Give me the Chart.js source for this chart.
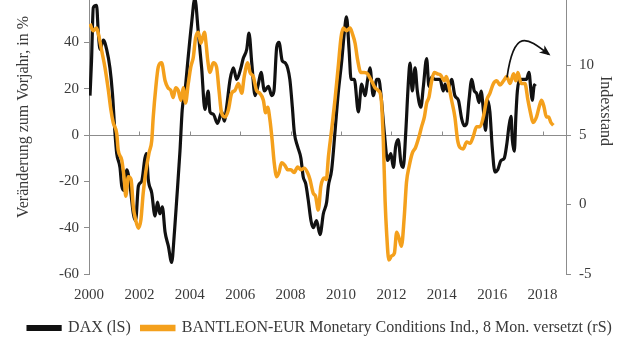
<!DOCTYPE html>
<html>
<head>
<meta charset="utf-8">
<script src="https://cdn.jsdelivr.net/npm/chart.js@4/dist/chart.umd.min.js"></script>
<style>
  html, body { margin: 0; padding: 0; background: #fff; overflow: hidden; }
  #wrap { position: absolute; left: 0; top: -21px; width: 640px; height: 381px; }
</style>
</head>
<body>
<div id="wrap"><canvas id="chart"></canvas></div>
<script>
// DAX, change vs. previous year in % (left scale)
const daxDates = [
  2000.04, 2000.10, 2000.17, 2000.30, 2000.37, 2000.44, 2000.57, 2000.70, 2000.83, 2000.93,
  2001.03, 2001.10, 2001.23, 2001.30, 2001.40, 2001.50, 2001.63, 2001.76, 2001.85, 2001.96,
  2002.09, 2002.22, 2002.28, 2002.35, 2002.49, 2002.62, 2002.72, 2002.81, 2002.91, 2003.02,
  2003.15, 2003.28, 2003.39, 2003.48, 2003.61, 2003.70, 2003.81, 2003.94, 2004.07, 2004.20,
  2004.34, 2004.47, 2004.60, 2004.73, 2004.80, 2004.93, 2005.10, 2005.27, 2005.37, 2005.46,
  2005.60, 2005.73, 2005.86, 2006.03, 2006.12, 2006.26, 2006.35, 2006.46, 2006.59, 2006.72,
  2006.83, 2006.96, 2007.12, 2007.25, 2007.34, 2007.45, 2007.54, 2007.67, 2007.80, 2007.97,
  2008.07, 2008.15, 2008.28, 2008.41, 2008.50, 2008.60, 2008.70, 2008.81, 2008.90, 2009.03,
  2009.17, 2009.30, 2009.43, 2009.50, 2009.63, 2009.76, 2009.89, 2010.03, 2010.13, 2010.22,
  2010.32, 2010.40, 2010.53, 2010.69, 2010.82, 2010.95, 2011.06, 2011.15, 2011.28, 2011.42,
  2011.50, 2011.59, 2011.72, 2011.85, 2011.98, 2012.08, 2012.17, 2012.27, 2012.38, 2012.47,
  2012.57, 2012.67, 2012.74, 2012.83, 2012.94, 2013.03, 2013.17, 2013.27, 2013.40, 2013.49,
  2013.60, 2013.73, 2013.93, 2014.06, 2014.13, 2014.23, 2014.39, 2014.52, 2014.66, 2014.79,
  2014.89, 2014.99, 2015.08, 2015.19, 2015.29, 2015.38, 2015.48, 2015.56, 2015.65, 2015.74,
  2015.82, 2015.91, 2016.00, 2016.11, 2016.22, 2016.35, 2016.48, 2016.58, 2016.67, 2016.75,
  2016.80, 2016.88, 2016.94, 2017.00, 2017.10, 2017.23, 2017.36, 2017.46, 2017.54, 2017.59,
  2017.66, 2017.72
];
const daxValues = [
  17, 32, 55, 56, 44, 37, 41, 37, 29, 18,
  1, -8, -14, -22, -24, -15, -22, -34, -37, -22,
  -20, -10, -8, -19, -25, -35, -29, -34, -31, -42,
  -48, -55, -42, -28, -7, 11, 19, 34, 48, 59,
  44, 29, 11, 19, 10, 9, 5, 10, 6, 12,
  24, 29, 24, 29, 33, 37, 44, 31, 17, 22,
  27, 19, 21, 17, 19, 38, 40, 32, 31, 24,
  12, 1, -5, -10, -18, -21, -28, -37, -40, -37,
  -43, -34, -29, -22, -15, 1, 18, 32, 44, 51,
  37, 24, 24, 10, 22, 17, 24, 29, 17, 24,
  24, 17, 1, -11, -8, -14, -5, -2, -12, -14,
  1, 22, 31, 19, 29, 19, 12, 21, 33, 21,
  25, 24, 24, 19, 22, 19, 24, 17, 15, 7,
  4, 5, 15, 24, 19, 18, 14, 19, 11, 2,
  15, 10, -5, -16, -15, -11, -10, -4, 4, 8,
  -2, -7, 8, 19, 24, 24, 24, 27, 19, 15,
  21, 22
];

// BANTLEON-EUR Monetary Conditions Index, shifted 8 months (right scale)
const mciDates = [
  2000.04, 2000.17, 2000.30, 2000.37, 2000.50, 2000.63, 2000.77, 2000.87, 2000.96, 2001.10,
  2001.16, 2001.30, 2001.40, 2001.46, 2001.56, 2001.67, 2001.76, 2001.85, 2001.96, 2002.06,
  2002.15, 2002.25, 2002.38, 2002.49, 2002.55, 2002.65, 2002.75, 2002.88, 2003.02, 2003.13,
  2003.25, 2003.34, 2003.44, 2003.54, 2003.65, 2003.74, 2003.83, 2003.94, 2004.04, 2004.14,
  2004.23, 2004.34, 2004.44, 2004.58, 2004.65, 2004.71, 2004.80, 2004.93, 2005.06, 2005.16,
  2005.26, 2005.40, 2005.53, 2005.66, 2005.79, 2005.93, 2006.06, 2006.16, 2006.30, 2006.39,
  2006.52, 2006.65, 2006.78, 2006.92, 2007.01, 2007.09, 2007.18, 2007.27, 2007.35, 2007.45,
  2007.54, 2007.64, 2007.78, 2007.88, 2008.01, 2008.14, 2008.28, 2008.41, 2008.54, 2008.67,
  2008.77, 2008.90, 2008.99, 2009.10, 2009.20, 2009.34, 2009.42, 2009.50, 2009.63, 2009.76,
  2009.89, 2010.00, 2010.09, 2010.22, 2010.36, 2010.45, 2010.56, 2010.66, 2010.79, 2010.92,
  2011.06, 2011.15, 2011.24, 2011.35, 2011.48, 2011.59, 2011.68, 2011.75, 2011.81, 2011.90,
  2012.01, 2012.12, 2012.21, 2012.30, 2012.40, 2012.51, 2012.60, 2012.70, 2012.83, 2012.96,
  2013.10, 2013.20, 2013.31, 2013.40, 2013.49, 2013.60, 2013.70, 2013.83, 2013.96, 2014.10,
  2014.18, 2014.26, 2014.39, 2014.52, 2014.63, 2014.72, 2014.85, 2014.99, 2015.12, 2015.25,
  2015.38, 2015.52, 2015.65, 2015.78, 2015.91, 2016.05, 2016.18, 2016.31, 2016.45, 2016.58,
  2016.71, 2016.85, 2016.94, 2017.02, 2017.15, 2017.30, 2017.42, 2017.52, 2017.62, 2017.76,
  2017.86, 2017.96, 2018.06, 2018.15, 2018.24, 2018.33, 2018.43
];
const mciValues = [
  13.0, 12.5, 12.7, 12.3, 11.1, 9.9, 8.2, 6.8, 5.9, 5.1,
  3.9, 3.2, 1.8, 0.6, 2.0, 1.8, -0.2, -1.1, -1.7, -1.1,
  0.8, 2.3, 3.7, 4.6, 6.3, 8.4, 9.9, 10.2, 8.9, 8.4,
  8.2, 7.7, 8.4, 8.2, 7.5, 8.4, 7.3, 8.7, 9.9, 10.6,
  12.0, 12.4, 11.6, 12.4, 11.5, 10.4, 9.5, 10.2, 9.9, 8.2,
  6.6, 6.3, 6.8, 8.0, 8.2, 8.7, 8.0, 9.2, 10.2, 9.5,
  9.2, 8.2, 8.0, 7.5, 6.6, 7.0, 6.1, 4.6, 3.0, 2.0,
  2.3, 3.0, 2.8, 2.5, 2.5, 2.3, 2.7, 2.5, 2.6, 2.3,
  1.8, 0.8, 0.6, -0.4, 1.3, 1.9, 1.8, 3.4, 5.4, 7.5,
  9.9, 12.0, 12.7, 12.5, 12.7, 12.3, 11.6, 10.4, 9.5, 9.5,
  9.4, 9.1, 8.8, 8.4, 8.2, 7.7, 4.6, 0.3, -2.0, -4.0,
  -3.7, -3.5, -2.0, -2.4, -3.0, -0.9, 1.6, 2.7, 3.7, 4.1,
  4.9, 5.6, 6.3, 7.3, 7.7, 8.9, 9.5, 9.4, 9.3, 8.9,
  9.2, 8.7, 7.5, 6.3, 4.6, 4.1, 4.0, 4.5, 4.4, 4.9,
  5.6, 5.6, 6.3, 7.5, 8.0, 8.7, 8.9, 8.6, 8.9, 9.2,
  8.7, 9.4, 8.9, 9.5, 8.7, 8.7, 7.5, 6.6, 5.9, 6.3,
  7.0, 7.5, 7.0, 6.3, 6.3, 5.9, 5.7
];

const xTickYears = [2000, 2002, 2004, 2006, 2008, 2010, 2012, 2014, 2016, 2018];
const leftTicks = [-60, -40, -20, 0, 20, 40, 60];
const rightTicks = [-5, 0, 5, 10, 15];

// hand-drawn arrow as a cubic curve: start, two control points, end
// (x in years, y on the left scale)
const arrowDates = [2016.59, 2016.87, 2017.42, 2018.25];
const arrowValues = [24.9, 46.9, 41.7, 34.8];

const daxLabel = 'DAX (lS)';
const mciLabel = 'BANTLEON-EUR Monetary Conditions Ind., 8 Mon. versetzt (rS)';
// the axis titles sit a little above the middle in the original, padded with no-break spaces
const leftTitle = '\u00A0'.repeat(9) + 'Veränderung zum Vorjahr, in %';
const rightTitle = 'Indexstand' + '\u00A0'.repeat(12);

const black = '#111111';
const orange = '#F4A01C';
const axisGrey = '#8c8c8c';
const textGrey = '#3a3a3a';
const serif = "'Liberation Serif', 'DejaVu Serif', serif";

const toPoints = (xs, ys) => xs.map((x, i) => ({ x: x, y: ys[i] }));

// zero line with small year ticks, like the axis crossing in the original
const zeroLine = {
  id: 'zeroLine',
  beforeDatasetsDraw(chart) {
    const { ctx, chartArea, scales } = chart;
    const y = Math.round(scales.yLeft.getPixelForValue(0)) + 0.5;
    ctx.save();
    ctx.strokeStyle = axisGrey;
    ctx.lineWidth = 1;
    ctx.beginPath();
    ctx.moveTo(chartArea.left, y);
    ctx.lineTo(chartArea.right, y);
    xTickYears.forEach(yr => {
      const x = Math.round(scales.x.getPixelForValue(yr)) + 0.5;
      ctx.moveTo(x, y);
      ctx.lineTo(x, y - 4);
    });
    ctx.stroke();
    ctx.restore();
  }
};

const arrow = {
  id: 'arrow',
  afterDatasetsDraw(chart) {
    const { ctx, scales } = chart;
    const p = arrowDates.map((d, i) => ({
      x: scales.x.getPixelForValue(d),
      y: scales.yLeft.getPixelForValue(arrowValues[i])
    }));
    ctx.save();
    ctx.strokeStyle = black;
    ctx.fillStyle = black;
    ctx.lineWidth = 1.7;
    ctx.beginPath();
    ctx.moveTo(p[0].x, p[0].y);
    ctx.bezierCurveTo(p[1].x, p[1].y, p[2].x, p[2].y, p[3].x, p[3].y);
    ctx.stroke();
    const tip = p[3];
    const ang = Math.atan2(tip.y - p[2].y, tip.x - p[2].x);
    const len = 9, half = 4.5;
    const cos = Math.cos(ang), sin = Math.sin(ang);
    ctx.beginPath();
    ctx.moveTo(tip.x + cos * 2, tip.y + sin * 2);
    ctx.lineTo(tip.x - cos * len + sin * half, tip.y - sin * len - cos * half);
    ctx.lineTo(tip.x - cos * (len - 3), tip.y - sin * (len - 3));
    ctx.lineTo(tip.x - cos * len - sin * half, tip.y - sin * len + cos * half);
    ctx.closePath();
    ctx.fill();
    ctx.restore();
  }
};

const ctx = document.getElementById('chart').getContext('2d');
new Chart(ctx, {
  type: 'line',
  data: {
    datasets: [
      {
        label: daxLabel,
        data: toPoints(daxDates, daxValues),
        yAxisID: 'yLeft',
        borderColor: black,
        backgroundColor: black,
        borderWidth: 3.2,
        pointRadius: 0,
        cubicInterpolationMode: 'monotone',
        order: 1
      },
      {
        label: mciLabel,
        data: toPoints(mciDates, mciValues),
        yAxisID: 'yRight',
        borderColor: orange,
        backgroundColor: orange,
        borderWidth: 3.5,
        pointRadius: 0,
        cubicInterpolationMode: 'monotone',
        order: 0
      }
    ]
  },
  options: {
    responsive: true,
    maintainAspectRatio: false,
    animation: false,
    layout: { padding: { left: 0, right: 0, top: 0, bottom: 14 } },
    plugins: {
      tooltip: { enabled: false },
      legend: {
        position: 'bottom',
        labels: {
          boxWidth: 32,
          boxHeight: 3,
          padding: 11,
          color: textGrey,
          font: { family: serif, size: 16 },
          sort: (a, b) => a.datasetIndex - b.datasetIndex
        }
      }
    },
    scales: {
      x: {
        type: 'linear',
        min: 2000,
        max: 2018.93,
        grid: { display: false, drawTicks: false },
        border: { display: false },
        afterBuildTicks: s => { s.ticks = xTickYears.map(v => ({ value: v })); },
        afterFit: s => { s.height = s.height - 7; },
        ticks: {
          padding: 12,
          maxRotation: 0,
          autoSkip: false,
          color: textGrey,
          font: { family: serif, size: 15 },
          callback: v => String(v)
        }
      },
      yLeft: {
        position: 'left',
        min: -60,
        max: 60,
        afterBuildTicks: s => { s.ticks = leftTicks.map(v => ({ value: v })); },
        afterFit: s => { s.width = 89; },
        grid: { drawOnChartArea: false, color: axisGrey, tickLength: 5 },
        border: { display: true, color: axisGrey },
        ticks: { padding: 5, color: textGrey, font: { family: serif, size: 15 } },
        title: {
          display: true,
          text: leftTitle,
          color: textGrey,
          font: { family: serif, size: 16 },
          padding: { top: 14, bottom: 4 }
        }
      },
      yRight: {
        position: 'right',
        min: -5,
        max: 15,
        afterBuildTicks: s => { s.ticks = rightTicks.map(v => ({ value: v })); },
        afterFit: s => { s.width = 74; },
        grid: { drawOnChartArea: false, color: axisGrey, tickLength: 5 },
        border: { display: true, color: axisGrey },
        ticks: { padding: 8, color: textGrey, font: { family: serif, size: 15 } },
        title: {
          display: true,
          text: rightTitle,
          color: textGrey,
          font: { family: serif, size: 16 },
          padding: { top: 25, bottom: 4 }
        }
      }
    }
  },
  plugins: [zeroLine, arrow]
});
</script>
</body>
</html>
